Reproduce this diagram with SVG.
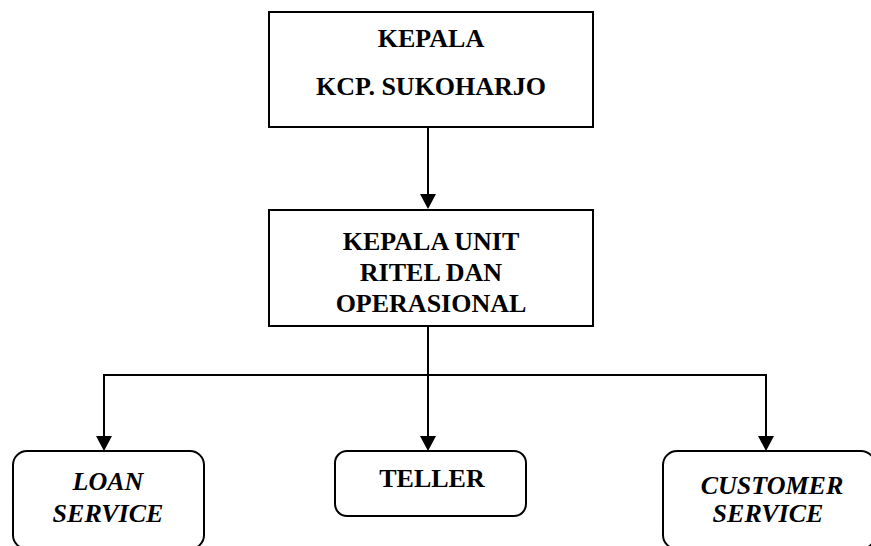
<svg xmlns="http://www.w3.org/2000/svg" width="871" height="546" viewBox="0 0 871 546">
<style>
.box{fill:#fff;stroke:#000;stroke-width:2}
.t{font-family:"Liberation Serif","Times New Roman",serif;font-weight:bold;font-size:26px;text-anchor:middle;fill:#000}
.i{font-style:italic}
.c{fill:none;stroke:#000;stroke-width:2}
</style>
<defs>
<marker id="ah" viewBox="0 0 15 16" refX="10" refY="8" markerWidth="15" markerHeight="16" markerUnits="userSpaceOnUse" orient="auto">
<path d="M0,0 L15,8 L0,16 Z" fill="#000"/>
</marker>
</defs>
<rect width="871" height="546" fill="#fff"/>
<g id="connectors">
<line class="c" x1="428" y1="127" x2="428" y2="204" marker-end="url(#ah)"/>
<line class="c" x1="428" y1="326" x2="428" y2="446" marker-end="url(#ah)"/>
<line class="c" x1="103" y1="375" x2="767" y2="375"/>
<line class="c" x1="104" y1="374" x2="104" y2="446" marker-end="url(#ah)"/>
<line class="c" x1="766" y1="374" x2="766" y2="446" marker-end="url(#ah)"/>
</g>
<g id="kepala-kcp">
<rect class="box" x="269" y="12" width="324" height="115"/>
<text class="t" x="431" y="47">KEPALA</text>
<text class="t" x="431" y="95">KCP. SUKOHARJO</text>
</g>
<g id="kepala-unit">
<rect class="box" x="269" y="210" width="324" height="116"/>
<text class="t" x="431" y="250">KEPALA UNIT</text>
<text class="t" x="431" y="281">RITEL DAN</text>
<text class="t" x="431" y="312">OPERASIONAL</text>
</g>
<g id="loan-service">
<rect class="box" x="13" y="451" width="191" height="98" rx="14" ry="14"/>
<text class="t i" x="108" y="490">LOAN</text>
<text class="t i" x="108" y="522">SERVICE</text>
</g>
<g id="teller">
<rect class="box" x="335" y="451" width="191" height="65" rx="12" ry="12"/>
<text class="t" x="432" y="487">TELLER</text>
</g>
<g id="customer-service">
<rect class="box" x="663" y="451" width="212" height="98" rx="14" ry="14"/>
<text class="t i" x="772" y="494">CUSTOMER</text>
<text class="t i" x="768" y="522">SERVICE</text>
</g>
</svg>
